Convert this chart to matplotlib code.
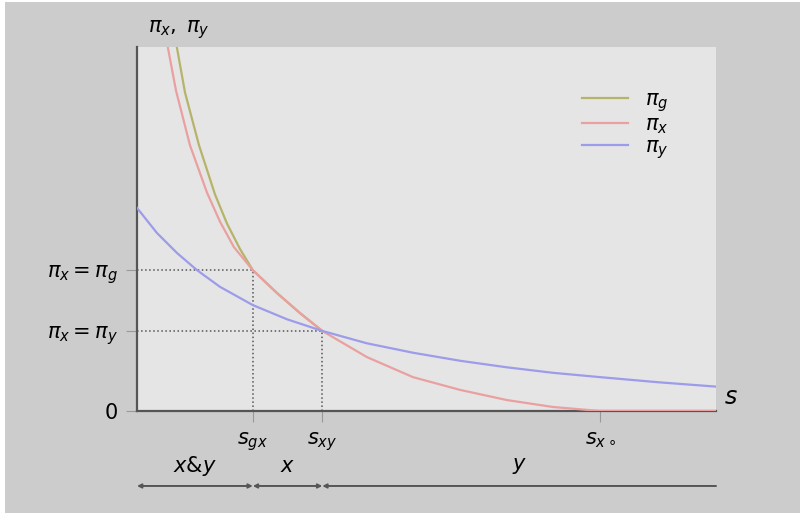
import matplotlib
matplotlib.use('Agg')
import matplotlib.pyplot as plt
from matplotlib.patches import Rectangle
from matplotlib.transforms import blended_transform_factory

# (s on a 0..10 scale, profits on a 0..10 scale)
s_x = [0.43, 0.535, 0.674, 0.915, 1.209, 1.434, 1.675, 2.0, 2.418, 2.815, 3.2,
       3.972, 4.767, 5.579, 6.39, 7.185, 8.0, 10.0]
pi_x = [11.0, 9.97, 8.8, 7.3, 6.0, 5.2, 4.5, 3.87, 3.24, 2.69, 2.2,
        1.48, 0.93, 0.58, 0.30, 0.11, 0.0, 0.0]

s_g = [0.585, 0.691, 0.829, 1.071, 1.347, 1.554, 1.779, 2.0, 2.418, 2.815, 3.2]
pi_g = [11.0, 9.97, 8.75, 7.3, 5.95, 5.15, 4.45, 3.87, 3.24, 2.69, 2.2]

s_y = [0.0, 0.345, 0.691, 1.036, 1.434, 2.0, 2.59, 3.2, 3.97, 4.77, 5.58,
       6.39, 7.18, 8.0, 9.0, 10.0]
pi_y = [5.58, 4.89, 4.34, 3.87, 3.41, 2.91, 2.52, 2.2, 1.86, 1.60, 1.38,
        1.20, 1.05, 0.93, 0.79, 0.67]

s_ticks = [2.0, 3.2, 8.0]
s_labels = [r'$s_{gx}$', r'$s_{xy}$', r'$s_{x\circ}$']
pi_ticks = [0.0, 2.2, 3.87]
pi_labels = ['0', r'$\pi_x = \pi_y$', r'$\pi_x = \pi_g$']

regions = [(0.0, 2.0, r'$x$&$y$', '<->'), (2.0, 3.2, r'$x$', '<->'),
           (3.2, 10.0, r'$y$', '<-')]

c_g = '#b5b46a'
c_x = '#eaa0a0'
c_y = '#9c9cea'

fig = plt.figure(figsize=(8, 5.15), dpi=100, facecolor='white')
fig.patches.append(Rectangle((5 / 800, 2 / 515), 1 - 5 / 800, 1 - 4 / 515,
                             transform=fig.transFigure, facecolor='#cccccc',
                             edgecolor='none', zorder=-10))
ax = fig.add_axes([137 / 800, 1 - 411 / 515, 579 / 800, 364 / 515])
ax.set_facecolor('#e5e5e5')

ax.plot(s_g, pi_g, color=c_g, lw=1.6, label=r'$\pi_g$', zorder=3)
ax.plot(s_x, pi_x, color=c_x, lw=1.6, label=r'$\pi_x$', zorder=4)
ax.plot(s_y, pi_y, color=c_y, lw=1.6, label=r'$\pi_y$', zorder=5)

# dotted guides
ax.plot([0, 2.0], [3.87, 3.87], ':', color='#555555', lw=1.1, zorder=2)
ax.plot([2.0, 2.0], [0, 3.87], ':', color='#555555', lw=1.1, zorder=2)
ax.plot([0, 3.2], [2.2, 2.2], ':', color='#555555', lw=1.1, zorder=2)
ax.plot([3.2, 3.2], [0, 2.2], ':', color='#555555', lw=1.1, zorder=2)

ax.set_xlim(0, 10)
ax.set_ylim(0, 10)
for side in ['top', 'right']:
    ax.spines[side].set_visible(False)
for side in ['left', 'bottom']:
    ax.spines[side].set_color('#555555')
    ax.spines[side].set_linewidth(1.6)
    ax.spines[side].set_zorder(2.5)

ax.set_xticks(s_ticks)
ax.set_xticklabels(s_labels, fontsize=15)
ax.set_yticks(pi_ticks)
ax.set_yticklabels(pi_labels, fontsize=15)
ax.tick_params(length=8, width=0.8, color='#999999', pad=6)

ax.text(0.019, 1.047, r'$\pi_x,\;\pi_y$', transform=ax.transAxes,
        fontsize=15, va='center', ha='left')
ax.text(1.026, 0.038, r'$s$', transform=ax.transAxes, fontsize=17,
        va='center', ha='center')

ax.legend(loc='upper right', bbox_to_anchor=(0.95, 0.936), frameon=False,
          fontsize=15, handlelength=2.2, labelspacing=0.02)

# regions under the axis
trans = blended_transform_factory(ax.transData, ax.transAxes)
for a, b, name, style in regions:
    ax.annotate('', xy=(b, -0.206), xytext=(a, -0.206), xycoords=trans,
                textcoords=trans,
                arrowprops=dict(arrowstyle=style, color='#555555', lw=1.4,
                                shrinkA=0, shrinkB=0, mutation_scale=6))
    ax.text((a + b) / 2, -0.151, name, transform=trans, fontsize=15,
            ha='center', va='center')

fig.savefig('out.png', dpi=100, facecolor=fig.get_facecolor())
